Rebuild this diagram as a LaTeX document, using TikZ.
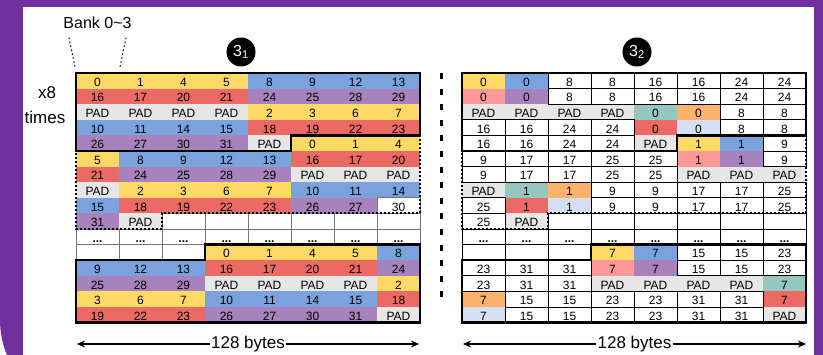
\documentclass[tikz,border=0pt]{standalone}
\usepackage{fontspec}
\setmainfont{Liberation Sans}
\usetikzlibrary{arrows.meta}
\definecolor{cY}{RGB}{255,217,102}
\definecolor{cB}{RGB}{122,163,222}
\definecolor{cR}{RGB}{236,106,100}
\definecolor{cP}{RGB}{167,130,189}
\definecolor{cG}{RGB}{230,230,230}
\definecolor{cK}{RGB}{255,153,153}
\definecolor{cT}{RGB}{150,199,190}
\definecolor{cO}{RGB}{255,178,107}
\definecolor{cL}{RGB}{212,224,242}
\definecolor{cW}{RGB}{255,255,255}
\definecolor{framecol}{RGB}{112,48,160}
\def\opW{1}\def\opY{0}\def\opB{0}\def\opR{0}\def\opP{0}\def\opG{0}
\def\opK{0}\def\opT{0}\def\opO{0}\def\opL{0}
\pgfdeclarelayer{fg}\pgfsetlayers{main,fg}
\tikzset{
  cellbox/.style={anchor=north west,minimum width=43pt,minimum height=15.6pt,
    inner sep=0pt,outer sep=0pt,text height=11pt,text depth=0pt,
    font=\fontsize{12}{14}\selectfont},
  gridL/.style={draw=black!55,line width=0.7pt},
  gridR/.style={draw=black,line width=0.8pt},
  thickline/.style={draw=black,line width=2.6pt,line join=miter},
  dotline/.style={draw=black,line width=2pt,dash pattern=on 2pt off 2pt},
  sepline/.style={draw=black,line width=3pt,dash pattern=on 6pt off 9.6pt},
  banklines/.style={draw=black,line width=1pt,dash pattern=on 1pt off 3pt,line cap=round},
  numcirc/.style={circle,fill=black,text=white,minimum size=29pt,inner sep=0pt,
    font=\fontsize{16}{18}\selectfont},
  biglbl/.style={font=\fontsize{17}{20}\selectfont,inner sep=1pt},
  dimarrow/.style={draw=black,line width=1.3pt,-{Stealth[length=8pt,width=7pt]}}
}
\newcommand\tabrow[4]{%
  \foreach \kk/\tx [count=\cc] in {#4}{%
    \node[cellbox,fill=c\kk] (#1-#3-\cc) at ({#2+(\cc-1)*43},{73+(#3-1)*15.6}) {\tx};
    \ifnum\csname op\kk\endcsname=1
      \begin{pgfonlayer}{fg}\draw[grid#1] (#1-#3-\cc.north west) rectangle (#1-#3-\cc.south east);\end{pgfonlayer}
    \fi
  }}
\begin{document}
\begin{tikzpicture}[x=1pt,y=-1pt]
\useasboundingbox (0,0) rectangle (823,355);
\fill[white] (0,0) rectangle (823,355);
\fill[framecol,rounded corners=91pt] (0,-300) rectangle (950,411);
\fill[white] (22.7,7.5) rectangle (814,370);

% left table
\tabrow{L}{76}{1}{Y/0,Y/1,Y/4,Y/5,B/8,B/9,B/12,B/13}
\tabrow{L}{76}{2}{R/16,R/17,R/20,R/21,P/24,P/25,P/28,P/29}
\tabrow{L}{76}{3}{G/PAD,G/PAD,G/PAD,G/PAD,Y/2,Y/3,Y/6,Y/7}
\tabrow{L}{76}{4}{B/10,B/11,B/14,B/15,R/18,R/19,R/22,R/23}
\tabrow{L}{76}{5}{P/26,P/27,P/30,P/31,G/PAD,Y/0,Y/1,Y/4}
\tabrow{L}{76}{6}{Y/5,B/8,B/9,B/12,B/13,R/16,R/17,R/20}
\tabrow{L}{76}{7}{R/21,P/24,P/25,P/28,P/29,G/PAD,G/PAD,G/PAD}
\tabrow{L}{76}{8}{G/PAD,Y/2,Y/3,Y/6,Y/7,B/10,B/11,B/14}
\tabrow{L}{76}{9}{B/15,R/18,R/19,R/22,R/23,P/26,P/27,W/30}
\tabrow{L}{76}{10}{P/31,G/PAD,W/{},W/{},W/{},W/{},W/{},W/{}}
\tabrow{L}{76}{11}{W/\textbf{...},W/\textbf{...},W/\textbf{...},W/\textbf{...},W/\textbf{...},W/\textbf{...},W/\textbf{...},W/\textbf{...}}
\tabrow{L}{76}{12}{W/{},W/{},W/{},Y/0,Y/1,Y/4,Y/5,B/8}
\tabrow{L}{76}{13}{B/9,B/12,B/13,R/16,R/17,R/20,R/21,P/24}
\tabrow{L}{76}{14}{P/25,P/28,P/29,G/PAD,G/PAD,G/PAD,G/PAD,Y/2}
\tabrow{L}{76}{15}{Y/3,Y/6,Y/7,B/10,B/11,B/14,B/15,R/18}
\tabrow{L}{76}{16}{R/19,R/22,R/23,P/26,P/27,P/30,P/31,G/PAD}

% right table
\tabrow{R}{462}{1}{Y/0,B/0,W/8,W/8,W/16,W/16,W/24,W/24}
\tabrow{R}{462}{2}{K/0,P/0,W/8,W/8,W/16,W/16,W/24,W/24}
\tabrow{R}{462}{3}{G/PAD,G/PAD,G/PAD,G/PAD,T/0,O/0,W/8,W/8}
\tabrow{R}{462}{4}{W/16,W/16,W/24,W/24,R/0,L/0,W/8,W/8}
\tabrow{R}{462}{5}{W/16,W/16,W/24,W/24,G/PAD,Y/1,B/1,W/9}
\tabrow{R}{462}{6}{W/9,W/17,W/17,W/25,W/25,K/1,P/1,W/9}
\tabrow{R}{462}{7}{W/9,W/17,W/17,W/25,W/25,G/PAD,G/PAD,G/PAD}
\tabrow{R}{462}{8}{G/PAD,T/1,O/1,W/9,W/9,W/17,W/17,W/25}
\tabrow{R}{462}{9}{W/25,R/1,L/1,W/9,W/9,W/17,W/17,W/25}
\tabrow{R}{462}{10}{W/25,G/PAD,W/{},W/{},W/{},W/{},W/{},W/{}}
\tabrow{R}{462}{11}{W/\textbf{...},W/\textbf{...},W/\textbf{...},W/\textbf{...},W/\textbf{...},W/\textbf{...},W/\textbf{...},W/\textbf{...}}
\tabrow{R}{462}{12}{W/{},W/{},W/{},Y/7,B/7,W/15,W/15,W/23}
\tabrow{R}{462}{13}{W/23,W/31,W/31,K/7,P/7,W/15,W/15,W/23}
\tabrow{R}{462}{14}{W/23,W/31,W/31,G/PAD,G/PAD,G/PAD,G/PAD,T/7}
\tabrow{R}{462}{15}{O/7,W/15,W/15,W/23,W/23,W/31,W/31,R/7}
\tabrow{R}{462}{16}{L/7,W/15,W/15,W/23,W/23,W/31,W/31,G/PAD}

\begin{pgfonlayer}{fg}
\foreach \t in {L,R}{
  \draw[thickline] (\t-1-1.north west) -- (\t-1-8.north east) -- (\t-5-8.north east)
    -- (\t-5-6.north west) -- (\t-5-6.south west) -- (\t-5-1.south west) -- cycle;
  \draw[dotline] (\t-5-8.north east) -- (\t-9-8.south east) -- (\t-10-3.north west)
    -- (\t-10-3.south west) -- (\t-10-1.south west) -- (\t-6-1.north west);
  \draw[thickline] (\t-12-4.north west) -- (\t-12-8.north east) -- (\t-16-8.south east)
    -- (\t-16-1.south west) -- (\t-13-1.north west) -- (\t-12-4.south west) -- cycle;
}
\end{pgfonlayer}

% separator
\coordinate (s1) at (441.7,73);
\coordinate (s2) at (441.7,304);
\draw[sepline] (s1) -- (s2);

% labels
\node[font=\fontsize{16}{19}\selectfont,inner sep=0pt] (bank) at (97.5,23) {Bank 0\textasciitilde3};
\coordinate (b1a) at (69,38); \coordinate (b1b) at (75,67);
\coordinate (b2a) at (126,38); \coordinate (b2b) at (120,67);
\draw[banklines] (b1a) -- (b1b);
\draw[banklines] (b2a) -- (b2b);

\node[biglbl] (x8) at (47,93) {x8};
\node[biglbl] (times) at (45,117) {times};

\node[numcirc] (c1) at (241,52) {3\textsubscript{1}};
\node[numcirc] (c2) at (637,52) {3\textsubscript{2}};

% bottom arrows
\node[biglbl] (lt) at (248,344) {128 bytes};
\coordinate (la) at (77,344); \coordinate (lb) at (419,344);
\draw[dimarrow] (lt.west) -- (la);
\draw[dimarrow] (lt.east) -- (lb);
\node[biglbl] (rt) at (634.5,344) {128 bytes};
\coordinate (ra) at (463,344); \coordinate (rb) at (806,344);
\draw[dimarrow] (rt.west) -- (ra);
\draw[dimarrow] (rt.east) -- (rb);
\end{tikzpicture}
\end{document}
